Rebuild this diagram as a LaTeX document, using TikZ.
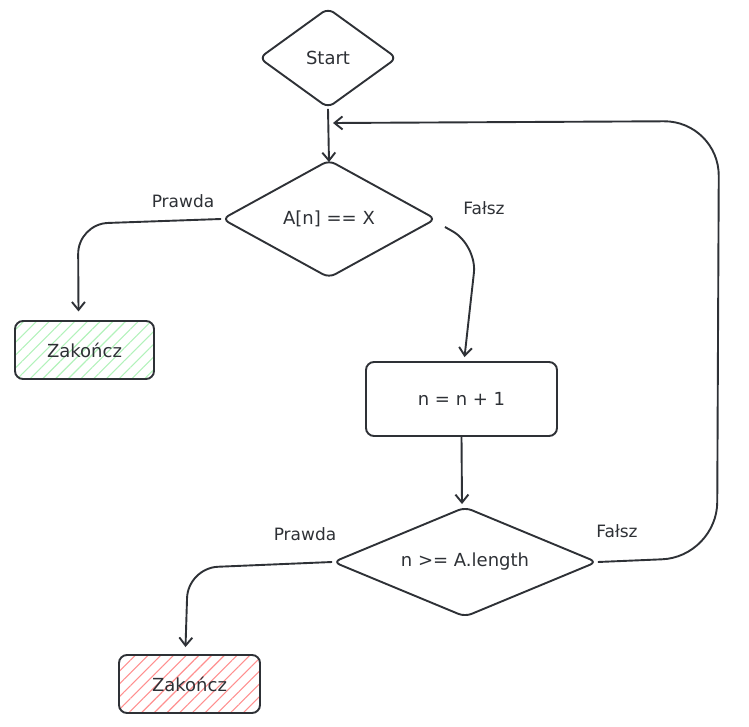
\documentclass[tikz,border=0pt]{standalone}
\usepackage{fontspec}
\setmainfont{DejaVu Sans}
\usetikzlibrary{shapes.geometric,arrows.meta,patterns.meta}
\definecolor{ink}{HTML}{2E3136}
\definecolor{hgreen}{HTML}{B2F2BB}
\definecolor{hred}{HTML}{FF8F8F}
\tikzset{
  every node/.style={text=ink, font=\fontsize{18}{20}\selectfont},
  dec/.style={diamond, draw=ink, line width=1.9pt, rounded corners=7pt, inner sep=0pt},
  procbox/.style={rectangle, draw=ink, line width=1.9pt, rounded corners=8pt, inner sep=0pt},
  arr/.style={draw=ink, line width=1.9pt, -{Straight Barb[length=8pt,width=13pt,line width=1.9pt]}},
  lbl/.style={font=\fontsize{17}{19}\selectfont},
  hatch/.style={pattern={Lines[angle=45,distance=9pt,line width=1.1pt]}}
}
\begin{document}
\begin{tikzpicture}[x=1pt,y=-1pt]
\useasboundingbox (0,0) rectangle (749,727);
\node[dec, aspect=1.38, minimum width=138pt, minimum height=100pt] (start) at (328,58) {Start};
\node[dec, aspect=1.81, minimum width=214pt, minimum height=118pt] (d2) at (329,219) {A[n] == X};
\node[procbox, minimum width=191pt, minimum height=74pt] (inc) at (461.5,399) {n = n + 1};
\node[dec, aspect=2.4, minimum width=264pt, minimum height=110pt] (d3) at (465,562) {n >= A.length};
\node[procbox, minimum width=139pt, minimum height=58pt, hatch, pattern color=hgreen] (z1) at (84.5,350) {};
\node at (z1) {Zakończ};
\node[procbox, minimum width=141pt, minimum height=58pt, hatch, pattern color=hred] (z2) at (189.5,684) {};
\node at (z2) {Zakończ};

\node[lbl] (p1) at (183,201) {Prawda};
\node[lbl] (f1) at (484,208) {Fałsz};
\node[lbl] (p2) at (305,534) {Prawda};
\node[lbl] (f2) at (617,531) {Fałsz};

\coordinate (join) at (333,123);

\draw[arr] (start.south) -- ([yshift=-3pt]d2.north);
\draw[arr, rounded corners=30pt] (d2.west) -- (78,224) -- ([xshift=-6pt,yshift=9pt]z1.north);
\draw[arr, rounded corners=28pt] ([xshift=8pt,yshift=-8pt]d2.east) -- (477,245) -- ([xshift=3pt,yshift=4pt]inc.north);
\draw[arr] (inc.south) -- ([xshift=-3pt,yshift=2pt]d3.north);
\draw[arr, rounded corners=30pt] (d3.west) -- (188,568) -- ([xshift=-4pt,yshift=7pt]z2.north);
\draw[arr, rounded corners=55pt] (d3.east) -- (717,557) -- (719,121) -- (join);
\end{tikzpicture}
\end{document}
